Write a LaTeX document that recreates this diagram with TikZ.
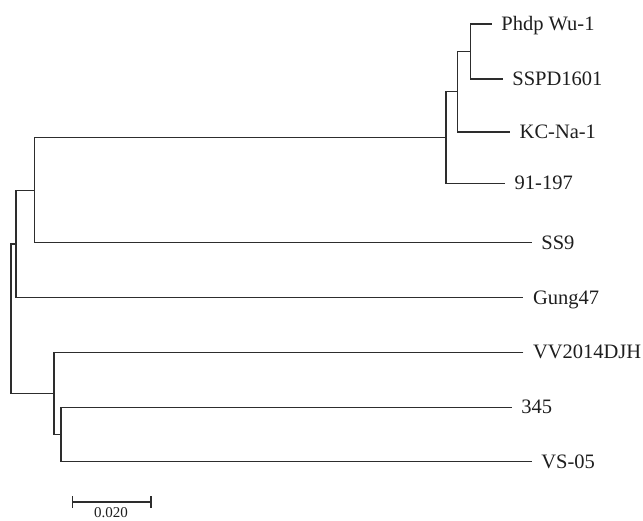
\documentclass[tikz,border=0pt]{standalone}
\usepackage{fontspec}
\setmainfont{Liberation Serif}
\definecolor{treeline}{RGB}{45,45,45}
\definecolor{treetext}{RGB}{30,30,30}
\begin{document}
\begin{tikzpicture}[x=1pt,y=-1pt,
  branch/.style={draw=treeline,line width=1.3pt},
  leaflabel/.style={anchor=base west,inner sep=0pt,text=treetext,font=\fontsize{20.5}{22}\selectfont,yshift=-6.5pt,xshift=9.5pt},
  scalelabel/.style={anchor=base,inner sep=0pt,text=treetext,font=\fontsize{15}{17}\selectfont}]
\useasboundingbox (0,0) rectangle (643,521);
% leaf tips
\coordinate (A) at (491.7,24);
\coordinate (B) at (502.7,79);
\coordinate (C) at (510,132);
\coordinate (D) at (505,183.5);
\coordinate (E) at (531.7,242.7);
\coordinate (F) at (523.3,297.7);
\coordinate (G) at (523.3,352.3);
\coordinate (H) at (511.7,407.3);
\coordinate (I) at (531.7,461.7);
% internal nodes
\coordinate (n1) at (470.7,51.5);
\coordinate (n2) at (457.3,91.7);
\coordinate (n3) at (446,137.6);
\coordinate (n4) at (34.3,190.2);
\coordinate (n5) at (16,244);
\coordinate (n6) at (61,434.5);
\coordinate (n7) at (54,393.4);
\coordinate (root) at (11,318.7);
% labels
\node[leaflabel] (lA) at (A) {Phdp Wu-1};
\node[leaflabel] (lB) at (B) {SSPD1601};
\node[leaflabel] (lC) at (C) {KC-Na-1};
\node[leaflabel] (lD) at (D) {91-197};
\node[leaflabel] (lE) at (E) {SS9};
\node[leaflabel] (lF) at (F) {Gung47};
\node[leaflabel] (lG) at (G) {VV2014DJH};
\node[leaflabel] (lH) at (H) {345};
\node[leaflabel] (lI) at (I) {VS-05};
% branches
\draw[branch] (A) -| (n1) |- (B);
\draw[branch] (n1) -| (n2) |- (C);
\draw[branch] (n2) -| (n3) |- (D);
\draw[branch] (n3) -| (n4) |- (E);
\draw[branch] (n4) -| (n5) |- (F);
\draw[branch] (H) -| (n6) |- (I);
\draw[branch] (G) -| (n7) |- (n6);
\draw[branch] (n5) -| (root) |- (n7);
% scale bar
\coordinate (s1) at (72.3,502);
\coordinate (s2) at (151,502);
\draw[branch] (s1) -- (s2);
\draw[branch] ([yshift=-6pt]s1) -- ([yshift=6pt]s1);
\draw[branch] ([yshift=-6pt]s2) -- ([yshift=6pt]s2);
\node[scalelabel] (sl) at (111,517.5) {0.020};
\end{tikzpicture}
\end{document}
